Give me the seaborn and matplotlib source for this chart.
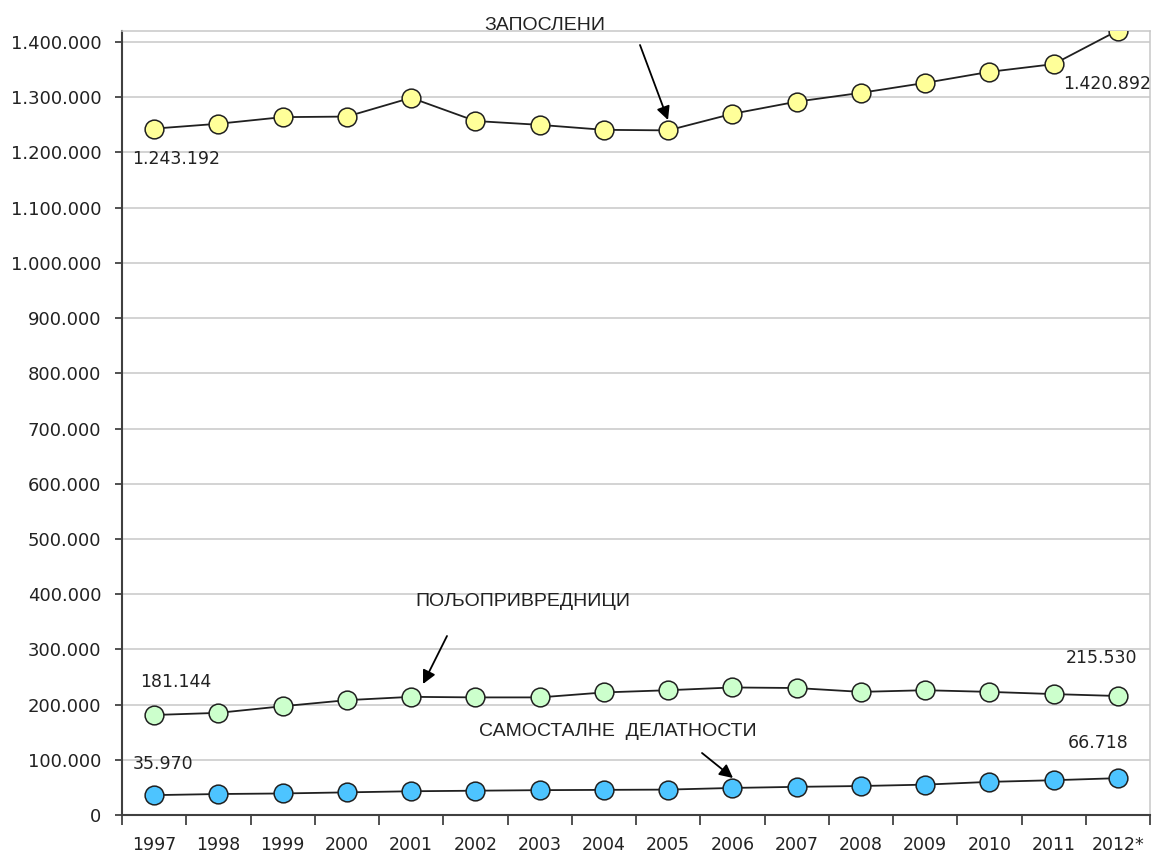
import matplotlib
matplotlib.use("Agg")
import matplotlib.pyplot as plt
import seaborn as sns
import pandas as pd
import numpy as np
from matplotlib.ticker import FuncFormatter, MultipleLocator, FixedLocator

years = ["1997", "1998", "1999", "2000", "2001", "2002", "2003", "2004",
         "2005", "2006", "2007", "2008", "2009", "2010", "2011", "2012*"]
zaposleni = [1243192, 1252000, 1264000, 1265000, 1299000, 1257000, 1250000, 1241000,
             1240000, 1270000, 1292000, 1308000, 1326000, 1346000, 1360000, 1420892]
poljoprivrednici = [181144, 185000, 197000, 208000, 214000, 213000, 213000, 222000,
                    226000, 231000, 230000, 223000, 226000, 223000, 219000, 215530]
samostalne = [35970, 38000, 39000, 41000, 43000, 44000, 45000, 45500,
              46000, 49000, 51000, 52500, 55000, 60000, 63000, 66718]

series_names = ["ЗАПОСЛЕНИ", "ПОЉОПРИВРЕДНИЦИ", "САМОСТАЛНЕ  ДЕЛАТНОСТИ"]
face_colors = ["#FFFF99", "#CCFFCC", "#4DC4FF"]

sns.set_theme(style="white")
plt.rcParams["font.family"] = ["DejaVu Sans"]

fig = plt.figure(figsize=(11.57, 8.56), dpi=100)
ax = fig.add_axes([122/1157, 1-815/856, (1150-122)/1157, (815-31)/856])

idx = np.arange(len(years))
for vals, fc in zip([zaposleni, poljoprivrednici, samostalne], face_colors):
    df = pd.DataFrame({"x": idx, "y": vals})
    sns.lineplot(data=df, x="x", y="y", ax=ax, color="#202020", linewidth=1.3,
                 marker="o", markersize=13.5, markerfacecolor=fc,
                 markeredgecolor="#202020", markeredgewidth=1.1, zorder=3)

ax.set_xlim(-0.5, len(years) - 0.5)
ax.set_ylim(0, 1420000)
ax.yaxis.set_major_locator(MultipleLocator(100000))
ax.yaxis.set_major_formatter(FuncFormatter(lambda v, p: f"{v:,.0f}".replace(",", ".")))
ax.set_xticks(idx)
ax.set_xticklabels(years)
ax.xaxis.set_minor_locator(FixedLocator(np.arange(-0.5, len(years), 1.0)))
ax.tick_params(axis="x", which="major", length=0, pad=15, labelsize=12.5, colors="#222222")
ax.tick_params(axis="x", which="minor", length=7, width=1.2, direction="out", color="#333333", bottom=True)
ax.tick_params(axis="y", which="major", length=5, width=1.2, direction="out", left=True,
               color="#333333", labelsize=13, labelcolor="#222222", pad=10)
ax.set_xlabel("")
ax.set_ylabel("")
ax.grid(axis="y", color="#C8C8C8", linewidth=1.1)
ax.grid(axis="x", visible=False)
ax.set_axisbelow(True)
for s in ["left", "bottom"]:
    ax.spines[s].set_color("#404040")
    ax.spines[s].set_linewidth(1.5)
for s in ["top", "right"]:
    ax.spines[s].set_color("#C8C8C8")
    ax.spines[s].set_linewidth(1.1)

lab_font = dict(fontsize=12.5, color="#222222")
fmt = lambda v: f"{v:,.0f}".replace(",", ".")
ax.annotate(fmt(zaposleni[0]), (0, zaposleni[0]), xytext=(-22, -35), textcoords="offset pixels", **lab_font)
ax.annotate(fmt(zaposleni[-1]), (15, zaposleni[-1]), xytext=(-55, -58), textcoords="offset pixels", **lab_font)
ax.annotate(fmt(poljoprivrednici[0]), (0, poljoprivrednici[0]), xytext=(-14, 28), textcoords="offset pixels", **lab_font)
ax.annotate(fmt(poljoprivrednici[-1]), (15, poljoprivrednici[-1]), xytext=(-52, 33), textcoords="offset pixels", **lab_font)
ax.annotate(fmt(samostalne[0]), (0, samostalne[0]), xytext=(-21, 26), textcoords="offset pixels", **lab_font)
ax.annotate(fmt(samostalne[-1]), (15, samostalne[-1]), xytext=(-50, 30), textcoords="offset pixels", **lab_font)

name_font = dict(fontsize=14, color="#222222", family=["Liberation Sans", "DejaVu Sans"],
                 ha="center", va="center")
arrow = dict(arrowstyle="-|>", color="black", lw=1.3, mutation_scale=20, shrinkA=0, shrinkB=0)

fig.text(545/1157, 1-25/856, series_names[0], **name_font)
fig.text(523/1157, 1-602/856, series_names[1], **name_font)
fig.text(618/1157, 1-732/856, series_names[2], **name_font)

fig.add_artist(matplotlib.patches.FancyArrowPatch((640/1157, 1-45/856), (668/1157, 1-120/856),
                                                  transform=fig.transFigure, **arrow))
fig.add_artist(matplotlib.patches.FancyArrowPatch((447/1157, 1-636/856), (423/1157, 1-684/856),
                                                  transform=fig.transFigure, **arrow))
fig.add_artist(matplotlib.patches.FancyArrowPatch((702/1157, 1-753/856), (733/1157, 1-778/856),
                                                  transform=fig.transFigure, **arrow))

fig.savefig("out.png", dpi=100, facecolor="white")
